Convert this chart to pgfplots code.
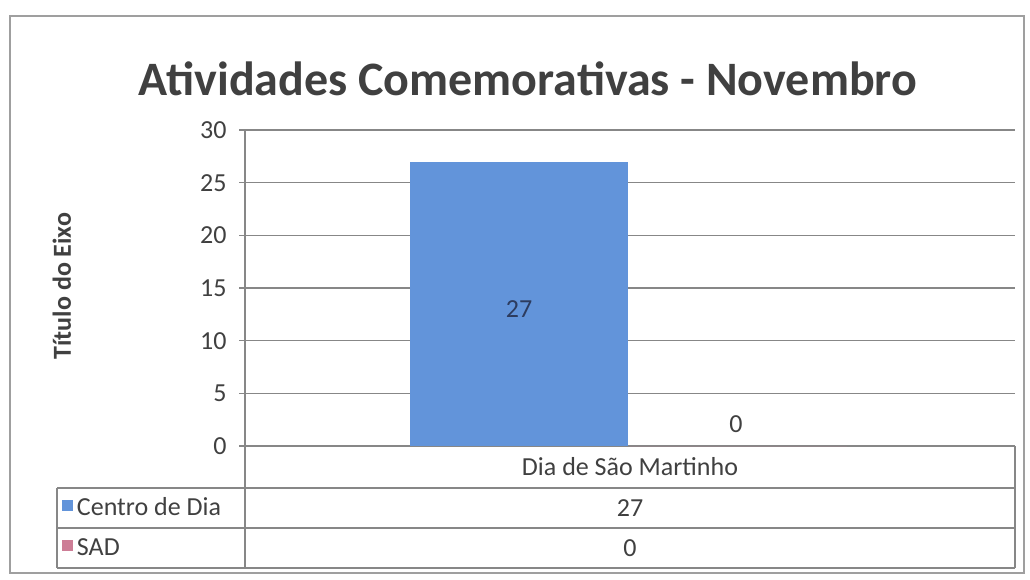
\documentclass[border=0pt]{standalone}
\usepackage{pgfplots}
\pgfplotsset{compat=1.18}
\usepackage{fontspec}
\setmainfont{Carlito}
\definecolor{barblue}{RGB}{98,148,218}
\definecolor{sadpink}{RGB}{205,125,150}
\definecolor{txt}{RGB}{64,64,64}
\definecolor{gridc}{RGB}{135,135,135}
\pgfplotsset{sqlegend/.style={legend image code/.code={\fill[##1, draw=none] (0pt,-3pt) rectangle (11pt,8pt);}}}
\begin{document}
\begin{tikzpicture}[x=1pt,y=1pt]
\useasboundingbox (0,0) rectangle (1030,-579);
\draw[gridc!80, line width=1.2pt] (10,-16) rectangle (1024,-573);
\node[anchor=base, text=txt, font=\fontsize{48}{56}\selectfont\bfseries] at (528,-95) {Atividades Comemorativas - Novembro};
\begin{axis}[
  at={(245pt,-446pt)}, anchor=south west,
  scale only axis, width=770pt, height=316pt,
  xmin=-0.5, xmax=0.5, ymin=0, ymax=30,
  ytick={0,5,...,30}, xtick=\empty,
  ymajorgrids, grid style={gridc, line width=1.2pt},
  axis line style={draw=none},
  ytick pos=left, tick align=outside, major tick length=6pt,
  ytick style={gridc, line width=1.2pt},
  /pgf/number format/assume math mode=true,
  yticklabel style={font=\fontsize{26}{30}\selectfont, text=txt, xshift=-9pt},
  ylabel={Título do Eixo},
  ylabel style={at={(axis description cs:-0.2377,0.506)}, anchor=center, font=\fontsize{26}{30}\selectfont\bfseries, text=txt},
  legend cell align=left,
  legend style={at={(axis description cs:-0.2377,-0.1329)}, anchor=north west, draw=none, fill=none, inner sep=0pt, outer sep=0pt, row sep=0pt, column sep=4pt, font=\fontsize{26}{30}\selectfont, text=txt, nodes={inner sep=0pt, text height=27pt, text depth=13pt}},
  clip=false,
]
\addplot[ybar, bar width=218pt, bar shift=-111pt, fill=barblue, draw=none, sqlegend,
  nodes near coords, nodes near coords style={anchor=center, xshift=-111pt, yshift=-147pt, font=\fontsize{26}{30}\selectfont, text={rgb,255:red,45;green,60;blue,95}}] coordinates {(0,27)};
\addlegendentry{Centro de Dia}
\addplot[ybar, bar width=218pt, bar shift=108pt, fill=sadpink, draw=none, sqlegend,
  nodes near coords, nodes near coords style={anchor=south, xshift=106pt, yshift=10pt, font=\fontsize{26}{30}\selectfont, text=txt}] coordinates {(0,0)};
\addlegendentry{SAD}
\end{axis}
\begin{scope}[gridc, line width=1.2pt]
\draw (245,-130) -- (245,-568);
\draw (1015,-446) -- (1015,-568);
\draw (57,-488) -- (1015,-488);
\draw (57,-528) -- (1015,-528);
\draw (57,-568) -- (1015,-568);
\draw (57,-488) -- (57,-568);
\end{scope}
\begin{scope}[font=\fontsize{26}{30}\selectfont, text=txt]
\node at (630,-467) {Dia de São Martinho};
\node at (630,-508) {27};
\node at (630,-548) {0};
\end{scope}
\end{tikzpicture}
\end{document}
